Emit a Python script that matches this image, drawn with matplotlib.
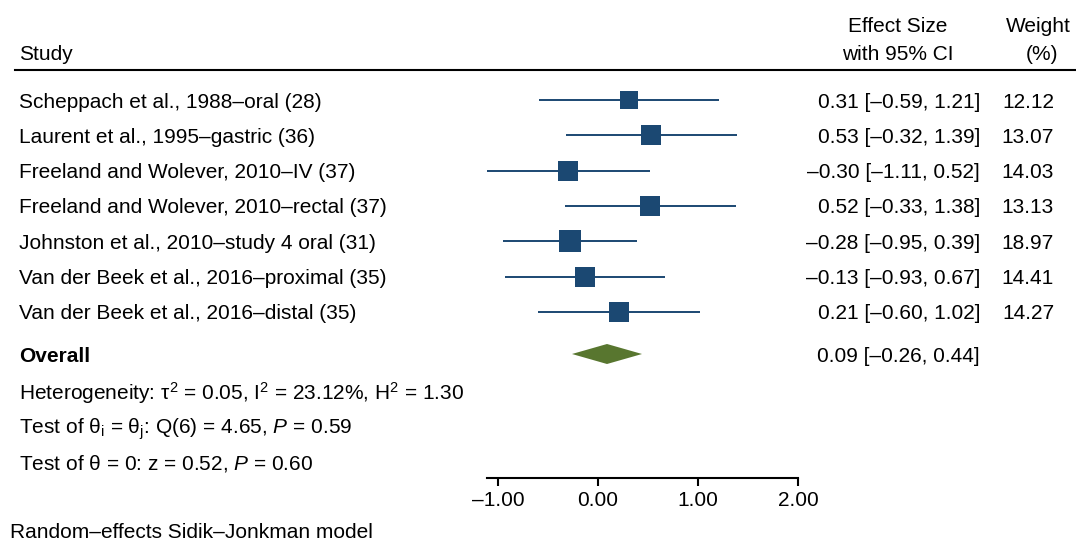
import matplotlib
matplotlib.use("Agg")
import matplotlib.pyplot as plt
import numpy as np

studies = ["Scheppach et al., 1988\u2013oral (28)",
           "Laurent et al., 1995\u2013gastric (36)",
           "Freeland and Wolever, 2010\u2013IV (37)",
           "Freeland and Wolever, 2010\u2013rectal (37)",
           "Johnston et al., 2010\u2013study 4 oral (31)",
           "Van der Beek et al., 2016\u2013proximal (35)",
           "Van der Beek et al., 2016\u2013distal (35)"]
effect = [0.31, 0.53, -0.30, 0.52, -0.28, -0.13, 0.21]
lower = [-0.59, -0.32, -1.11, -0.33, -0.95, -0.93, -0.60]
upper = [1.21, 1.39, 0.52, 1.38, 0.39, 0.67, 1.02]
weight = [12.12, 13.07, 14.03, 13.13, 18.97, 14.41, 14.27]
overall = [0.09, -0.26, 0.44]
xticks = [-1.0, 0.0, 1.0, 2.0]

plt.rcParams['font.family'] = ['Liberation Sans', 'DejaVu Sans']
plt.rcParams['mathtext.fontset'] = 'custom'
plt.rcParams['mathtext.rm'] = 'Liberation Sans'
plt.rcParams['mathtext.it'] = 'Liberation Sans:italic'
plt.rcParams['mathtext.bf'] = 'Liberation Sans:bold'

W, H = 1076, 544
FS = 15
fig = plt.figure(figsize=(W / 100, H / 100), dpi=100)

def fx(px):
    return px / W

def fy(py):
    return 1 - py / H

def fmt(v):
    return f"{v:.2f}".replace("-", "\u2013")

VA = 'center_baseline'

row_y = [100 + 35.33 * i for i in range(len(studies))]
overall_y = 354

ax_left, ax_right, ax_top, ax_bot = 487, 798, 80, 478
ax = fig.add_axes([fx(ax_left), fy(ax_bot), (ax_right - ax_left) / W, (ax_bot - ax_top) / H])
ax.set_xlim(-1.11, 2.0)
ax.set_ylim(ax_bot, ax_top)
for s in ['top', 'right', 'left']:
    ax.spines[s].set_visible(False)
ax.spines['bottom'].set_linewidth(1.5)
ax.set_yticks([])
ax.set_xticks(xticks)
ax.set_xticklabels([fmt(t) for t in xticks], fontsize=FS)
ax.tick_params(axis='x', length=6, width=1.5, pad=3)
ax.patch.set_visible(False)

blue = '#1B4872'
green = '#58762F'
k = 23 / np.sqrt(max(weight))
for i in range(len(studies)):
    y = row_y[i]
    ax.plot([lower[i], upper[i]], [y, y], color=blue, lw=1.4, clip_on=False, solid_capstyle='butt')
    side_px = k * np.sqrt(weight[i])
    ax.plot([effect[i]], [y], marker='s', color=blue, markersize=side_px * 0.72,
            markeredgewidth=0, clip_on=False)

es, lo, hi = overall
ax.fill([lo, es, hi, es], [overall_y, overall_y - 10, overall_y, overall_y + 10],
        color=green, lw=0, clip_on=False)

fig.text(fx(19), fy(53), "Study", fontsize=FS, ha='left', va=VA)
fig.text(fx(898), fy(24), "Effect Size", fontsize=FS, ha='center', va=VA)
fig.text(fx(898), fy(53), "with 95% CI", fontsize=FS, ha='center', va=VA)
fig.text(fx(1038), fy(24), "Weight", fontsize=FS, ha='center', va=VA)
fig.text(fx(1042), fy(53), "(%)", fontsize=FS, ha='center', va=VA)
fig.add_artist(plt.Line2D([fx(15), fx(1076)], [fy(70), fy(70)], color='black', lw=1.5))

for i, name in enumerate(studies):
    y = row_y[i]
    fig.text(fx(19), fy(y), name, fontsize=FS, ha='left', va=VA)
    fig.text(fx(980), fy(y), f"{fmt(effect[i])} [{fmt(lower[i])}, {fmt(upper[i])}]",
             fontsize=FS, ha='right', va=VA)
    fig.text(fx(1054), fy(y), f"{weight[i]:.2f}", fontsize=FS, ha='right', va=VA)

fig.text(fx(19), fy(overall_y), "Overall", fontsize=FS, fontweight='bold', ha='left', va=VA)
fig.text(fx(980), fy(overall_y), f"{fmt(es)} [{fmt(lo)}, {fmt(hi)}]",
         fontsize=FS, ha='right', va=VA)

fig.text(fx(19), fy(390), "Heterogeneity: \u03c4$^2$ = 0.05, I$^2$ = 23.12%, H$^2$ = 1.30",
         fontsize=FS, ha='left', va=VA)
fig.text(fx(19), fy(425), "Test of \u03b8$_\\mathrm{i}$ = \u03b8$_\\mathrm{j}$: Q(6) = 4.65, $\\mathit{P}$ = 0.59",
         fontsize=FS, ha='left', va=VA)
fig.text(fx(19), fy(461), "Test of \u03b8 = 0: z = 0.52, $\\mathit{P}$ = 0.60",
         fontsize=FS, ha='left', va=VA)

fig.text(fx(10), fy(531), "Random\u2013effects Sidik\u2013Jonkman model", fontsize=FS,
         ha='left', va=VA)

fig.savefig("out.png", dpi=100)
